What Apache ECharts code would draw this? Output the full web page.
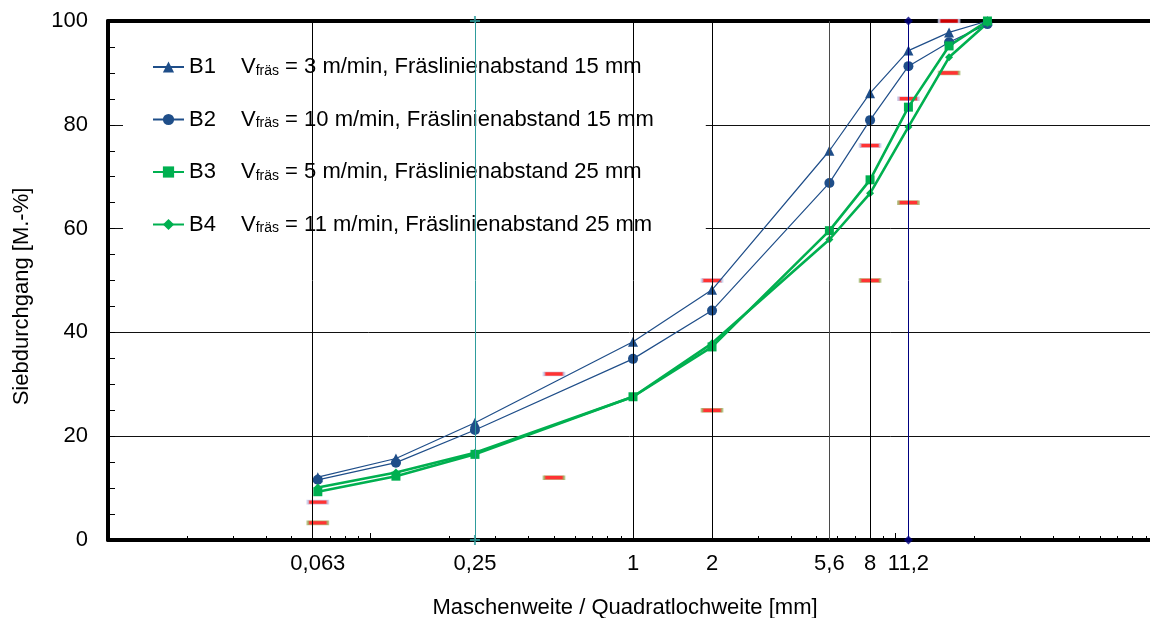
<!DOCTYPE html>
<html>
<head>
<meta charset="utf-8">
<script src="https://cdn.jsdelivr.net/npm/echarts@6/dist/echarts.min.js"></script>
<style>
  html, body { margin: 0; padding: 0; background: #fff; }
  #chart { width: 1150px; height: 618px; }
</style>
</head>
<body>
<div id="chart"></div>
<script>
// Siebweiten [mm] der gemessenen Sieblinien
const siebweiten = [0.063, 0.125, 0.25, 1, 2, 5.6, 8, 11.2, 16, 22.4];
// Siebdurchgang [M.-%] je Probe
const b1 = [12.1, 15.7, 22.6, 38.2, 48.2, 75.0, 86.1, 94.3, 97.8, 100];
const b2 = [11.6, 14.9, 21.2, 34.9, 44.2, 68.8, 80.9, 91.3, 95.9, 99.4];
const b3 = [9.3, 12.3, 16.5, 27.6, 37.2, 59.6, 69.4, 83.4, 95.2, 100];
const b4 = [10.1, 13.0, 16.8, 27.6, 37.9, 57.9, 66.8, 79.6, 93.0, 99.6];

// Grenzsieblinie: obere und untere Grenzwerte
const grenzSiebweiten = [0.063, 0.5, 2, 8, 11.2, 16];
const grenzOben = [7.3, 32, 50, 76, 85, 100];
const grenzUnten = [3.3, 12, 25, 50, 65, 90];

// Beschriftete Siebweiten der x-Achse und ihre Hilfslinien
const xTickLabels = [0.063, 0.25, 1, 2, 5.6, 8, 11.2];
const xGuideColors = ['#000000', '#2E9C9C', '#000000', '#000000', '#4a4a4a', '#000000', '#000080'];
const yTicks = [0, 20, 40, 60, 80, 100];

// Legendentexte
const probenNamen = ['B1', 'B2', 'B3', 'B4'];
const vFraes = ['3', '10', '5', '11'];
const linienAbstand = ['15', '15', '25', '25'];

const dekaden = [0.01, 0.1, 1, 10, 100];
const zwischenTicks = [];
[0.01, 0.1, 1, 10].forEach(function (d) {
  for (let k = 2; k <= 9; k++) zwischenTicks.push(+(k * d).toPrecision(3));
});

const pair = (xs, ys) => xs.map((x, i) => [x, ys[i]]);
const fmtKomma = v => String(+(+v).toPrecision(4)).replace('.', ',');

const FONT = 'Liberation Sans, Arial, sans-serif';
const FS = 22;
const BLUE = '#1F4E89';
const GREEN = '#00B050';
const TEAL = '#2E9C9C';

const logAxisBase = {
  type: 'log', logBase: 10, min: 0.01, max: 100, gridIndex: 0,
  splitLine: { show: false }, minorSplitLine: { show: false }
};

const chart = echarts.init(document.getElementById('chart'));
chart.setOption({
  animation: false,
  backgroundColor: '#fff',
  textStyle: { fontFamily: FONT },
  grid: { left: 108, top: 21, bottom: 78, width: 1050, containLabel: false, outerBoundsMode: 'none' },
  legend: {
    data: probenNamen,
    orient: 'vertical',
    left: 123, top: 23,
    padding: [33, 52, 19, 29],
    backgroundColor: '#ffffff',
    itemWidth: 31, itemHeight: 14, itemGap: 30.5,
    selectedMode: false,
    textStyle: {
      fontFamily: FONT, fontSize: FS, color: '#000',
      rich: {
        b: { fontFamily: FONT, fontSize: FS, color: '#000', width: 52 },
        v: { fontFamily: FONT, fontSize: FS, color: '#000' },
        s: { fontFamily: FONT, fontSize: 14, color: '#000', verticalAlign: 'bottom' },
        t: { fontFamily: FONT, fontSize: FS, color: '#000' }
      }
    },
    formatter: function (name) {
      const i = probenNamen.indexOf(name);
      return '{b|' + name + '}{v|V}{s|fräs}{t| = ' + vFraes[i] + ' m/min, Fräslinienabstand ' + linienAbstand[i] + ' mm}';
    }
  },
  xAxis: [
    Object.assign({}, logAxisBase, {
      position: 'bottom',
      axisLine: { show: true, lineStyle: { color: '#000', width: 4 } },
      axisTick: { show: true, inside: true, length: 7, customValues: dekaden, lineStyle: { color: '#000', width: 1 } },
      axisLabel: {
        show: true, customValues: xTickLabels, formatter: fmtKomma,
        fontFamily: FONT, fontSize: FS, color: '#000', margin: 13
      },
      name: 'Maschenweite / Quadratlochweite [mm]',
      nameLocation: 'middle', nameGap: 57,
      nameTextStyle: { fontFamily: FONT, fontSize: FS, color: '#000', padding: [0, 16, 0, 0] }
    }),
    Object.assign({}, logAxisBase, {
      position: 'bottom',
      axisLine: { show: false },
      axisTick: { show: true, inside: true, length: 4, customValues: zwischenTicks, lineStyle: { color: '#000', width: 1 } },
      axisLabel: { show: false }
    }),
    Object.assign({}, logAxisBase, {
      position: 'top',
      axisLine: { show: true, lineStyle: { color: '#000', width: 4 } },
      axisTick: { show: false },
      axisLabel: { show: false }
    })
  ],
  yAxis: {
    type: 'value', min: 0, max: 100, interval: 20,
    axisLine: { show: true, lineStyle: { color: '#000', width: 4 } },
    axisTick: { show: true, inside: true, length: 7, lineStyle: { color: '#000', width: 1 } },
    minorTick: { show: true, splitNumber: 4, length: 7, lineStyle: { color: '#000', width: 1 } },
    axisLabel: {
      fontFamily: FONT, fontSize: FS, color: '#000', margin: 20,
      customValues: yTicks
    },
    splitLine: { show: true, lineStyle: { color: '#111', width: 1 } },
    name: 'Siebdurchgang [M.-%]',
    nameLocation: 'middle', nameGap: 75, nameRotate: 90,
    nameTextStyle: { fontFamily: FONT, fontSize: FS, color: '#000', padding: [0, 32, 0, 0] }
  },
  series: [
    {
      name: 'Hilfslinien', type: 'line', data: [], silent: true,
      markLine: {
        silent: true, symbol: ['none', 'none'], label: { show: false },
        animation: false,
        data: xTickLabels.map((v, i) => ({ xAxis: v, lineStyle: { color: xGuideColors[i], width: 1, type: 'solid' } }))
      }
    },
    {
      name: 'Endpunkte 11,2', type: 'scatter', silent: true, clip: false,
      symbol: 'diamond', symbolSize: 9,
      itemStyle: { color: '#000080' },
      data: [[xTickLabels[6], yTicks[0]], [xTickLabels[6], yTicks[yTicks.length - 1]]]
    },
    {
      name: 'Endpunkte 0,25', type: 'scatter', silent: true, clip: false,
      symbol: 'path://M0,4H10V6H0Z M4,0H6V10H4Z', symbolSize: 10,
      itemStyle: { color: TEAL },
      data: [[xTickLabels[1], yTicks[0]], [xTickLabels[1], yTicks[yTicks.length - 1]]]
    },
    {
      name: 'Obergrenze', type: 'scatter', silent: true,
      symbol: 'rect', symbolSize: [20, 4],
      itemStyle: { color: '#FF0000', borderColor: '#C3CBEA', borderWidth: 1.2 },
      data: pair(grenzSiebweiten, grenzOben), z: 3
    },
    {
      name: 'Untergrenze', type: 'scatter', silent: true,
      symbol: 'rect', symbolSize: [20, 4],
      itemStyle: { color: '#FF0000', borderColor: '#A2B56A', borderWidth: 1.2 },
      data: pair(grenzSiebweiten, grenzUnten), z: 3
    },
    {
      name: 'B1', type: 'line', data: pair(siebweiten, b1),
      symbol: 'triangle', symbolSize: 10, showSymbol: true,
      itemStyle: { color: BLUE }, lineStyle: { color: BLUE, width: 1.2 }, z: 4
    },
    {
      name: 'B2', type: 'line', data: pair(siebweiten, b2),
      symbol: 'circle', symbolSize: 10, showSymbol: true,
      itemStyle: { color: BLUE }, lineStyle: { color: BLUE, width: 1.2 }, z: 4
    },
    {
      name: 'B3', type: 'line', data: pair(siebweiten, b3),
      symbol: 'rect', symbolSize: 9, showSymbol: true,
      itemStyle: { color: GREEN }, lineStyle: { color: GREEN, width: 2.6 }, z: 4
    },
    {
      name: 'B4', type: 'line', data: pair(siebweiten, b4),
      symbol: 'diamond', symbolSize: 8, showSymbol: true,
      itemStyle: { color: GREEN }, lineStyle: { color: GREEN, width: 2.6 }, z: 4
    }
  ]
});
</script>
</body>
</html>
